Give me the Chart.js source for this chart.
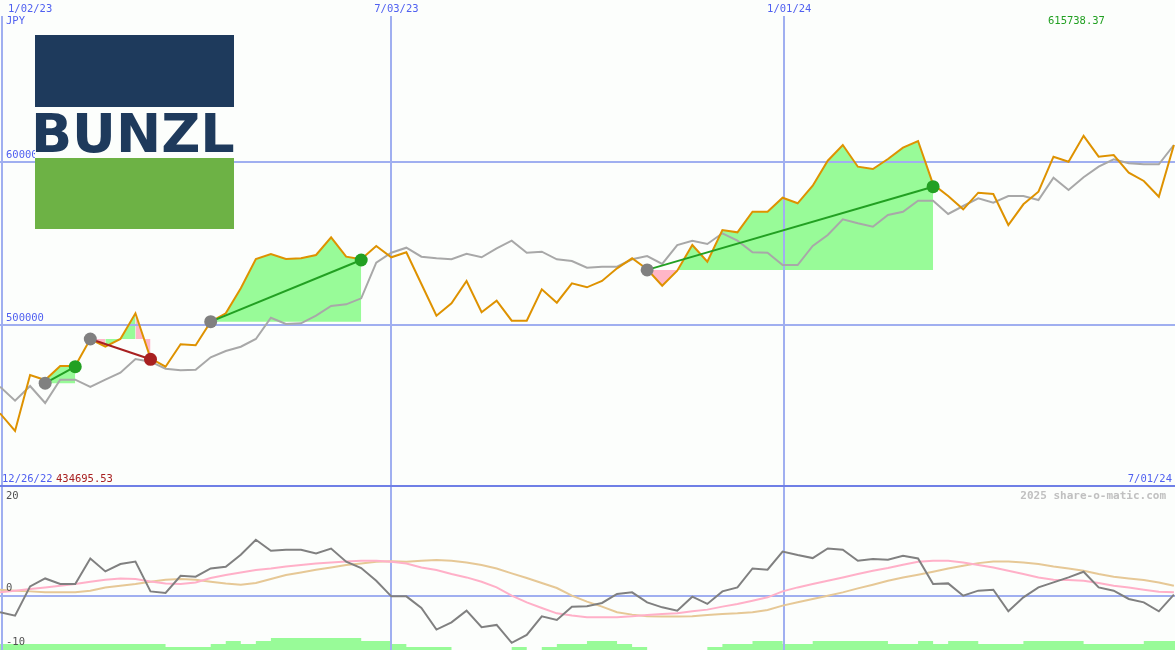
<!DOCTYPE html>
<html>
<head>
<meta charset="utf-8">
<script src="https://cdn.jsdelivr.net/npm/chart.js@4/dist/chart.umd.min.js"></script>
<style>
html, body { margin: 0; padding: 0; background: #fcfefc; }
#wrap { position: relative; width: 1175px; height: 650px; overflow: hidden; background: #fcfefc; }
#top { position: absolute; left: 0; top: 0; width: 1175px; height: 487px; }
#bot { position: absolute; left: 0; top: 487px; width: 1175px; height: 163px; }
</style>
</head>
<body>
<div id="wrap">
  <canvas id="top" width="1175" height="487"></canvas>
  <canvas id="bot" width="1175" height="163"></canvas>
</div>
<script>
// ---------------- data ----------------
const DATE_LABELS = ['1/02/23', '7/03/23', '1/01/24'];
const DATE_POS = [0.13, 26.0, 52.1];           // week index of each date gridline
const PRICE_TICKS = [600000, 500000];
const PRICE_TICK_LABELS = ['600000', '500000'];
const OSC_TICKS = [20, 0, -10];
const CURRENCY = 'JPY';
const START_LABEL = '12/26/22';
const END_LABEL = '7/01/24';
const HIGH_LABEL = '615738.37';
const LOW_LABEL = '434695.53';
const WATERMARK = '2025 share-o-matic.com';
const LOGO_TEXT = 'BUNZL';

// weekly close
const price = [
  445500, 434696, 469000, 465950, 474540, 474540, 491100, 486380, 491100, 506870,
  479260, 474110, 487850, 487240, 501720, 506870, 522210, 540180, 543250, 540180,
  540610, 542640, 553500, 541600, 540000, 548160, 541230, 544290, 524850, 505400,
  513000, 526690, 507480, 514600, 502330, 502330, 521600, 513370, 525280, 522820,
  526690, 534480, 540610, 533860, 523800, 533000, 548770, 538530, 557980, 556560,
  569200, 569200, 577790, 574360, 585150, 600490, 610120, 596810, 595400, 601530,
  608470, 612580, 586010, 578830, 570670, 580860, 580060, 561040, 573740, 581470,
  602950, 599880, 615738, 602950, 603990, 593130, 588040, 578400, 610120];

// moving average (grey)
const avg = [
  461840, 453250, 462270, 451840, 466130, 466130, 461660, 466130, 470430, 478830,
  477180, 472880, 471900, 472270, 479880, 483740, 486380, 491100, 504170, 500310,
  500740, 505400, 511350, 512390, 516070, 537910, 544000, 547120, 541600, 540610,
  540000, 543430, 541230, 546750, 551410, 544050, 544660, 540000, 538960, 534850,
  535460, 535460, 540000, 542020, 537120, 548770, 551410, 549390, 555950, 551410,
  544290, 544050, 536500, 536500, 548160, 554910, 564540, 562090, 560000, 567180,
  569200, 575950, 575950, 567790, 572700, 577420, 574720, 578830, 578830, 576380,
  590060, 582520, 590310, 596810, 601350, 598900, 598280, 598280, 610120];

// trades
const tradeStart = [3, 6, 14, 43];
const tradeEnd = [5, 10, 24, 62];
const tradeEntry = [464000, 491100, 501720, 533500];
const tradeExit = [474100, 478650, 539570, 584540];

// lower panel
const osc = [
  -3.06, -3.67, 1.71, 3.17, 2.15, 2.15, 6.84, 4.46, 5.82, 6.29,
  0.79, 0.50, 3.67, 3.49, 5.01, 5.32, 7.52, 10.28, 8.26, 8.44,
  8.44, 7.76, 8.68, 6.24, 5.08, 2.75, -0.13, -0.13, -2.26, -6.24,
  -4.90, -2.75, -5.82, -5.38, -8.68, -7.21, -3.80, -4.46, -2.02, -1.96,
  -1.34, 0.31, 0.61, -1.23, -2.15, -2.75, -0.18, -1.52, 0.79, 1.52,
  5.01, 4.77, 8.13, 7.47, 6.92, 8.68, 8.44, 6.42, 6.73, 6.61,
  7.34, 6.84, 2.15, 2.26, 0, 0.92, 1.10, -2.88, -0.31, 1.52,
  2.44, 3.36, 4.40, 1.52, 0.92, -0.61, -1.23, -2.88, 0.18];
const oscFast = [
  0.61, 0.92, 1.23, 1.52, 1.83, 2.15, 2.57, 2.94, 3.17, 3.06,
  2.62, 2.26, 2.15, 2.44, 3.25, 3.80, 4.28, 4.72, 5.01, 5.38,
  5.63, 5.93, 6.11, 6.29, 6.42, 6.42, 6.24, 5.93, 5.19, 4.72,
  3.98, 3.36, 2.57, 1.52, 0, -1.23, -2.26, -3.25, -3.67, -3.98,
  -3.98, -3.98, -3.80, -3.54, -3.36, -3.25, -2.88, -2.57, -2.02, -1.52,
  -0.92, -0.31, 0.79, 1.52, 2.15, 2.75, 3.36, 3.98, 4.59, 5.08,
  5.69, 6.24, 6.42, 6.42, 6.11, 5.63, 5.19, 4.59, 3.98, 3.36,
  2.94, 2.88, 2.75, 2.33, 1.83, 1.52, 1.10, 0.73, 0.61];
const oscSlow = [
  1.10, 0.92, 0.79, 0.61, 0.61, 0.61, 0.92, 1.52, 1.83, 2.15,
  2.57, 2.94, 3.06, 2.94, 2.57, 2.26, 2.02, 2.33, 3.06, 3.80,
  4.28, 4.77, 5.19, 5.63, 5.93, 6.24, 6.33, 6.24, 6.42, 6.55,
  6.42, 6.11, 5.63, 5.01, 4.10, 3.25, 2.33, 1.41, 0, -1.10,
  -2.02, -3.06, -3.49, -3.80, -3.85, -3.85, -3.80, -3.54, -3.36, -3.25,
  -3.06, -2.62, -1.83, -1.23, -0.61, 0, 0.61, 1.34, 2.02, 2.75,
  3.36, 3.85, 4.40, 5.01, 5.50, 5.99, 6.29, 6.29, 6.11, 5.82,
  5.38, 5.01, 4.59, 3.98, 3.49, 3.17, 2.88, 2.44, 1.83];
const volumeBars = [
  2, 2, 2, 2, 2, 2, 2, 2, 2, 2, 2, 2, 1, 1, 1, 2, 3, 2, 3, 4,
  4, 4, 4, 4, 4, 3, 3, 2, 1, 1, 1, 0, 0, 0, 0, 1, 0, 1, 2, 2,
  3, 3, 2, 1, 0, 0, 0, 0, 1, 2, 2, 3, 3, 2, 2, 3, 3, 3, 3, 3,
  2, 2, 3, 2, 3, 3, 2, 2, 2, 3, 3, 3, 3, 2, 2, 2, 2, 3, 3];

// ---------------- style ----------------
const BG = '#fcfefc';
const GRID = '#a0aff0';
const SEP = '#6f7fe6';
const BLUE_TXT = '#5060f0';
const ORANGE = '#de9200';
const GREY = '#a8a8a8';
const FILL_UP = '#98fb98';
const FILL_DN = '#ffb6c8';
const WIN = '#22a022';
const LOSS = '#a82020';
const MARK_START = '#808080';
const MONO = "10.5px 'DejaVu Sans Mono'";
const X_MAX = 1175 / 15.05;

const pts = arr => arr.map((v, i) => ({ x: i, y: v }));

// ---------------- top chart ----------------
const topDatasets = [];
tradeStart.forEach((s, t) => {
  const e = tradeEnd[t];
  const win = tradeExit[t] >= tradeEntry[t];
  topDatasets.push({
    data: [{ x: s, y: tradeEntry[t] }, { x: e, y: tradeExit[t] }],
    borderColor: win ? WIN : LOSS, borderWidth: 2,
    pointRadius: 6.5, pointBorderWidth: 0,
    pointBackgroundColor: [MARK_START, win ? WIN : LOSS],
    fill: false, order: 0
  });
});
topDatasets.push({ data: pts(price), borderColor: ORANGE, borderWidth: 2, pointRadius: 0, fill: false, order: 1 });
topDatasets.push({ data: pts(avg), borderColor: GREY, borderWidth: 2, pointRadius: 0, fill: false, order: 2 });
// shaded trade areas: runs of consecutive weeks sharing a colour
tradeStart.forEach((s, t) => {
  const base = tradeEntry[t];
  let runStart = s, runColor = null;
  for (let k = s; k <= tradeEnd[t]; k++) {
    const c = k < tradeEnd[t] ? (price[k + 1] >= base ? FILL_UP : FILL_DN) : null;
    if (runColor !== null && c !== runColor) {
      const seg = [];
      for (let j = runStart; j <= k; j++) seg.push({ x: j, y: price[j] });
      topDatasets.push({
        data: seg, borderColor: 'rgba(0,0,0,0)', borderWidth: 0, pointRadius: 0,
        backgroundColor: runColor, fill: { value: base }, order: 3
      });
      runStart = k;
    }
    runColor = c;
  }
});

function txt(ctx, s, x, y, color, font, align) {
  ctx.font = font || MONO;
  ctx.fillStyle = color;
  ctx.textAlign = align || 'left';
  ctx.textBaseline = 'middle';
  ctx.fillText(s, x, y);
}

const topPlugin = {
  id: 'topDecor',
  beforeDatasetsDraw(chart) {
    const { ctx, chartArea: a, scales: { x, y } } = chart;
    ctx.save();
    ctx.fillStyle = GRID;
    PRICE_TICKS.forEach(v => {
      const py = Math.round(y.getPixelForValue(v));
      ctx.fillRect(a.left, py - 1, a.right - a.left, 2);
    });
    DATE_POS.forEach(d => {
      const px = Math.round(x.getPixelForValue(d));
      ctx.fillRect(px - 1, 16, 2, a.bottom - 16);
    });
    ctx.restore();
  },
  afterDraw(chart) {
    const { ctx, chartArea: a, scales: { x, y } } = chart;
    ctx.save();
    ctx.fillStyle = SEP;
    ctx.fillRect(0, a.bottom - 2, a.right, 2);
    DATE_POS.forEach((d, i) => {
      const px = Math.max(8, x.getPixelForValue(d) - 17);
      txt(ctx, DATE_LABELS[i], px, 9, BLUE_TXT);
    });
    txt(ctx, CURRENCY, 6, 21, BLUE_TXT);
    PRICE_TICKS.forEach((v, i) => txt(ctx, PRICE_TICK_LABELS[i], 6, y.getPixelForValue(v) - 6, BLUE_TXT));
    txt(ctx, HIGH_LABEL, 1048, 21, WIN);
    txt(ctx, START_LABEL, 2, 479, BLUE_TXT);
    txt(ctx, LOW_LABEL, 56, 479, LOSS);
    txt(ctx, END_LABEL, 1172, 479, BLUE_TXT, MONO, 'right');
    // logo
    ctx.fillStyle = BG;
    ctx.fillRect(35, 35, 199, 194);
    ctx.fillStyle = '#1e3a5c';
    ctx.fillRect(35, 35, 199, 72);
    ctx.font = "bold 53px 'DejaVu Sans'";
    ctx.textAlign = 'left';
    ctx.textBaseline = 'alphabetic';
    const m = ctx.measureText(LOGO_TEXT);
    const bw = m.actualBoundingBoxLeft + m.actualBoundingBoxRight;
    const sx = 199 / bw;
    ctx.translate(35 + m.actualBoundingBoxLeft * sx, 152);
    ctx.scale(sx, 1);
    ctx.fillText(LOGO_TEXT, 0, 0);
    ctx.setTransform(1, 0, 0, 1, 0, 0);
    ctx.fillStyle = '#6db245';
    ctx.fillRect(35, 158, 199, 71);
    ctx.restore();
  }
};

const commonOpts = {
  responsive: false, animation: false, events: [],
  layout: { padding: 0, autoPadding: false },
  plugins: { legend: { display: false }, tooltip: { enabled: false }, filler: { drawTime: 'beforeDatasetsDraw' } },
  elements: { line: { tension: 0 }, point: { radius: 0 } }
};

new Chart(document.getElementById('top'), {
  type: 'line',
  data: { datasets: topDatasets },
  options: Object.assign({}, commonOpts, {
    scales: {
      x: { type: 'linear', min: 0, max: X_MAX, display: false },
      y: { type: 'linear', min: 400307, max: 699080, display: false }
    }
  }),
  plugins: [topPlugin]
});

// ---------------- bottom chart ----------------
const barPts = pts(volumeBars);
barPts.push({ x: volumeBars.length, y: volumeBars[volumeBars.length - 1] });

const botPlugin = {
  id: 'botDecor',
  beforeDatasetsDraw(chart) {
    const { ctx, chartArea: a, scales: { x, y } } = chart;
    ctx.save();
    ctx.fillStyle = GRID;
    const py = Math.round(y.getPixelForValue(0));
    ctx.fillRect(a.left, py - 1, a.right - a.left, 2);
    DATE_POS.forEach(d => {
      const px = Math.round(x.getPixelForValue(d));
      ctx.fillRect(px - 1, a.top, 2, a.bottom - a.top);
    });
    ctx.restore();
  },
  afterDraw(chart) {
    const { ctx, chartArea: a, scales: { y } } = chart;
    ctx.save();
    OSC_TICKS.forEach(v => {
      const py = Math.min(Math.max(y.getPixelForValue(v) - 7, 9), a.bottom - 8);
      txt(ctx, String(v), 6, py, '#505050');
    });
    txt(ctx, WATERMARK, 1166, 9, '#c0c0c0', "bold 11px 'DejaVu Sans Mono'", 'right');
    ctx.restore();
  }
};

new Chart(document.getElementById('bot'), {
  type: 'line',
  data: {
    datasets: [
      { data: pts(osc), borderColor: '#808080', borderWidth: 2, pointRadius: 0, fill: false, order: 0 },
      { data: pts(oscFast), borderColor: '#ffb0c8', borderWidth: 2, pointRadius: 0, fill: false, order: 1 },
      { data: pts(oscSlow), borderColor: '#e6c896', borderWidth: 2, pointRadius: 0, fill: false, order: 2 },
      { data: barPts, yAxisID: 'y2', stepped: 'after', borderColor: 'rgba(0,0,0,0)', borderWidth: 0,
        pointRadius: 0, backgroundColor: FILL_UP, fill: 'start', order: 3 }
    ]
  },
  options: Object.assign({}, commonOpts, {
    scales: {
      x: { type: 'linear', min: 0, max: X_MAX, display: false },
      y: { type: 'linear', min: -10, max: 20, display: false },
      y2: { type: 'linear', min: 0, max: 163 / 3, display: false }
    }
  }),
  plugins: [botPlugin]
});
</script>
</body>
</html>
